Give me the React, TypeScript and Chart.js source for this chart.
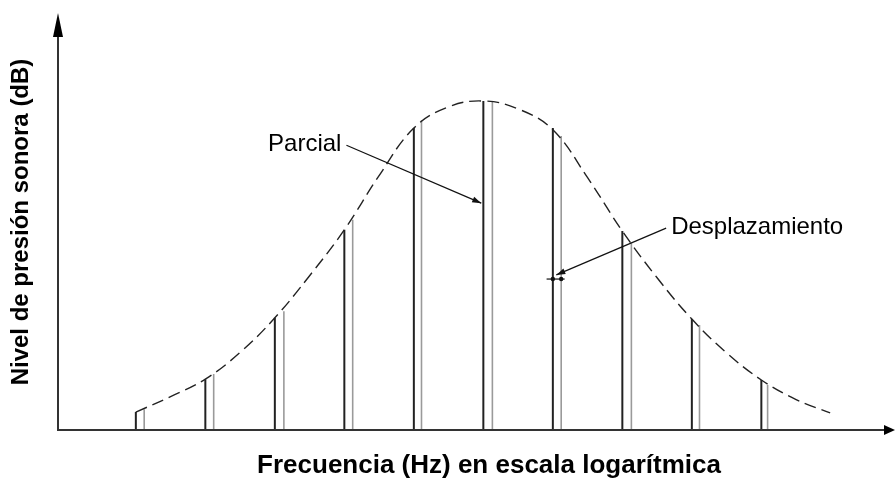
import { useEffect, useRef } from "react";
import { Chart, registerables } from "chart.js";

Chart.register(...registerables);

// Partial positions (log-frequency units) and levels (relative dB units, 0 = axis)
const partialPositions = [1, 2, 3, 4, 5, 6, 7, 8, 9, 10];
const partialLevels = [4.3, 12.2, 26.9, 48.0, 72.4, 78.9, 72.4, 47.7, 26.6, 12.0];
// Shifted (displaced) partials
const shiftedPositions = [1.12, 2.12, 3.13, 4.12, 5.11, 6.13, 7.12, 8.13, 9.11, 10.09];
const shiftedLevels = [5.0, 13.4, 28.5, 50.4, 74.3, 78.7, 70.5, 44.8, 25.2, 10.8];
// Dashed spectral envelope
const envelopeX = [1, 1.5, 2, 2.5, 3, 3.5, 4, 4.5, 5, 5.5, 6, 6.5, 7, 7.5, 8, 8.5, 9, 9.5, 10, 10.5, 10.99];
const envelopeY = [4.3, 8.0, 12.2, 18.6, 26.9, 37.0, 48.0, 61.0, 72.4, 77.5, 78.9, 77.0, 72.0, 60.5, 47.7, 36.5, 26.6, 18.5, 12.0, 7.3, 4.1];

const xTitle = "Frecuencia (Hz) en escala logarítmica";
const yTitle = "Nivel de presión sonora (dB)";
const partialLabel = "Parcial";
const shiftLabel = "Desplazamiento";

// annotation anchors (data units)
const partialArrow = { from: [4.03, 68.3], to: [5.97, 54.4] };
const shiftArrow = { from: [8.63, 48.4], to: [7.05, 37.2] };
const shiftMarker = { y: 36.2, x0: 6.91, x1: 7.17, dots: [7.0, 7.12] };

function segments(xs: number[], ys: number[]) {
  const out: { x: number; y: number | null }[] = [];
  xs.forEach((x, i) => {
    out.push({ x, y: 0 });
    out.push({ x, y: ys[i] });
    out.push({ x, y: null });
  });
  return out;
}

export default function App() {
  const ref = useRef<HTMLCanvasElement | null>(null);
  useEffect(() => {
    if (!ref.current) return;
    const FONT = "'Liberation Sans', Arial, sans-serif";
    const overlay = {
      id: "overlay",
      afterDraw(chart: any) {
        const ctx = chart.ctx as CanvasRenderingContext2D;
        const xs = chart.scales.x;
        const ys = chart.scales.y;
        const a = chart.chartArea;
        const px = (v: number) => xs.getPixelForValue(v);
        const py = (v: number) => ys.getPixelForValue(v);
        ctx.save();
        // axes
        ctx.strokeStyle = "#333";
        ctx.fillStyle = "#000";
        ctx.lineWidth = 2;
        ctx.beginPath();
        ctx.moveTo(a.left, a.top + 22);
        ctx.lineTo(a.left, a.bottom);
        ctx.lineTo(885, a.bottom);
        ctx.stroke();
        ctx.beginPath();
        ctx.moveTo(a.left, a.top);
        ctx.lineTo(a.left - 5, a.top + 24);
        ctx.lineTo(a.left + 5, a.top + 24);
        ctx.closePath();
        ctx.fill();
        ctx.beginPath();
        ctx.moveTo(895, a.bottom);
        ctx.lineTo(884, a.bottom - 5);
        ctx.lineTo(884, a.bottom + 5);
        ctx.closePath();
        ctx.fill();

        // arrows
        const arrow = (f: number[], t: number[]) => {
          const x0 = px(f[0]), y0 = py(f[1]), x1 = px(t[0]), y1 = py(t[1]);
          ctx.strokeStyle = "#111";
          ctx.lineWidth = 1.2;
          ctx.beginPath();
          ctx.moveTo(x0, y0);
          ctx.lineTo(x1, y1);
          ctx.stroke();
          const ang = Math.atan2(y1 - y0, x1 - x0);
          const L = 9, W = 3;
          ctx.beginPath();
          ctx.moveTo(x1, y1);
          ctx.lineTo(x1 - L * Math.cos(ang) + W * Math.sin(ang), y1 - L * Math.sin(ang) - W * Math.cos(ang));
          ctx.lineTo(x1 - L * Math.cos(ang) - W * Math.sin(ang), y1 - L * Math.sin(ang) + W * Math.cos(ang));
          ctx.closePath();
          ctx.fillStyle = "#111";
          ctx.fill();
        };
        arrow(partialArrow.from, partialArrow.to);
        arrow(shiftArrow.from, shiftArrow.to);

        // displacement marker
        ctx.strokeStyle = "#111";
        ctx.lineWidth = 1.2;
        ctx.beginPath();
        ctx.moveTo(px(shiftMarker.x0), py(shiftMarker.y));
        ctx.lineTo(px(shiftMarker.x1), py(shiftMarker.y));
        ctx.stroke();
        ctx.fillStyle = "#111";
        shiftMarker.dots.forEach((d) => {
          ctx.beginPath();
          ctx.arc(px(d), py(shiftMarker.y), 2.2, 0, Math.PI * 2);
          ctx.fill();
        });

        // labels
        ctx.fillStyle = "#000";
        ctx.font = `24px ${FONT}`;
        ctx.textBaseline = "middle";
        ctx.textAlign = "right";
        ctx.fillText(partialLabel, px(partialArrow.from[0]) - 5, py(partialArrow.from[1]) - 1);
        ctx.textAlign = "left";
        ctx.fillText(shiftLabel, px(shiftArrow.from[0]) + 5, py(shiftArrow.from[1]) - 1);

        // axis titles
        ctx.font = `bold 26px ${FONT}`;
        ctx.textAlign = "center";
        ctx.fillText(xTitle, 489, 466);
        ctx.font = `bold 24px ${FONT}`;
        ctx.save();
        ctx.translate(21, 222);
        ctx.rotate(-Math.PI / 2);
        ctx.fillText(yTitle, 0, 0);
        ctx.restore();
        ctx.restore();
      },
    };

    const chart = new Chart(ref.current, {
      type: "line",
      data: {
        datasets: [
          {
            label: "Envolvente",
            data: envelopeX.map((x, i) => ({ x, y: envelopeY[i] })),
            borderColor: "#222",
            borderWidth: 1.4,
            borderDash: [12, 6],
            pointRadius: 0,
            tension: 0.4,
            fill: false,
          },
          {
            label: "Parciales",
            data: segments(partialPositions, partialLevels),
            borderColor: "#222",
            borderWidth: 2,
            pointRadius: 0,
            spanGaps: false,
          },
          {
            label: "Desplazados",
            data: segments(shiftedPositions, shiftedLevels),
            borderColor: "#9a9a9a",
            borderWidth: 1.6,
            pointRadius: 0,
            spanGaps: false,
          },
        ],
      },
      options: {
        animation: false,
        responsive: false,
        maintainAspectRatio: false,
        parsing: false as any,
        layout: { padding: { left: 58, right: 1.6, top: 13, bottom: 48 } },
        plugins: { legend: { display: false }, tooltip: { enabled: false } },
        scales: {
          x: { type: "linear", min: -0.12, max: 11.9, display: false },
          y: { type: "linear", min: 0, max: 100, display: false },
        },
      },
      plugins: [overlay],
    });
    return () => chart.destroy();
  }, []);
  return (
    <div style={{ position: "fixed", left: 0, top: 0, width: 895, height: 478, background: "#fff" }}>
      <canvas ref={ref} width={895} height={478} style={{ width: 895, height: 478 }} />
    </div>
  );
}
